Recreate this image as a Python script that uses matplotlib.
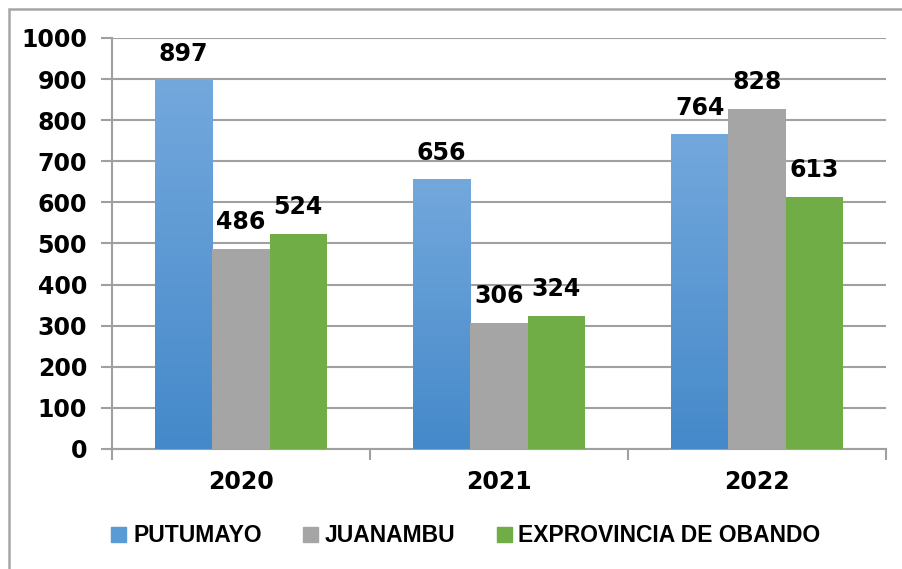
import matplotlib
matplotlib.use("Agg")
import matplotlib.pyplot as plt
import numpy as np
from matplotlib.patches import Rectangle
from matplotlib.colors import LinearSegmentedColormap

years = ["2020", "2021", "2022"]
series_names = ["PUTUMAYO", "JUANAMBU", "EXPROVINCIA DE OBANDO"]
putumayo = [897, 656, 764]
juanambu = [486, 306, 828]
obando = [524, 324, 613]
yticks = [0, 100, 200, 300, 400, 500, 600, 700, 800, 900, 1000]

plt.rcParams['font.family'] = ['DejaVu Sans']
fig = plt.figure(figsize=(9.02, 5.69), dpi=100)
ax = fig.add_axes([112/902, 1-449/569, (886-112)/902, (449-38)/569])

# outer border (only top and left edges visible in the frame)
fig.patches.append(Rectangle((9/902, -0.05), 1.0, 1.05 - 9/569, transform=fig.transFigure,
                             fill=False, edgecolor='#a6a6a6', linewidth=1.8))

x = np.arange(len(years))
w = 0.222
colors = ['#5b9bd5', '#a5a5a5', '#70ad47']
data = [putumayo, juanambu, obando]
blue_cmap = LinearSegmentedColormap.from_list('b', ['#4589ca', '#73a8dc'])
grad = np.linspace(0, 1, 256).reshape(-1, 1)

for i, vals in enumerate(data):
    xs = x + (i - 1) * w
    bars = ax.bar(xs, vals, width=w, color=colors[i], zorder=3, label=series_names[i])
    if i == 0:
        for b in bars:
            b.set_facecolor('none')
            b.set_edgecolor('none')
            ax.imshow(grad, cmap=blue_cmap, origin='lower', aspect='auto',
                      extent=[b.get_x(), b.get_x() + b.get_width(), 0, b.get_height()],
                      zorder=3)
    for xi, v in zip(xs, vals):
        ax.text(xi, v + 36, str(v), ha='center', va='bottom', fontsize=17,
                fontweight='bold', zorder=5)

ax.set_xlim(-0.5, 2.5)
ax.set_ylim(0, 1000)
ax.set_yticks(yticks)
ax.set_yticklabels([str(t) for t in yticks], fontsize=17, fontweight='bold')
ax.set_xticks(x)
ax.set_xticklabels(years, fontsize=17, fontweight='bold')
ax.tick_params(axis='x', length=0, pad=15)
ax.set_xticks([-0.5, 0.5, 1.5, 2.5], minor=True)
ax.tick_params(axis='x', which='minor', length=8, color='#a0a0a0', width=1.5)
ax.tick_params(axis='y', length=8, color='#a0a0a0', width=1.5, pad=10)
ax.yaxis.grid(True, color='#a0a0a0', linewidth=1.5, zorder=0)
ax.set_axisbelow(True)
for s in ['top', 'right']:
    ax.spines[s].set_visible(False)
for s in ['left', 'bottom']:
    ax.spines[s].set_color('#a0a0a0')
    ax.spines[s].set_linewidth(1.5)

handles = [Rectangle((0, 0), 1, 1, color=c) for c in colors]
leg = fig.legend(handles, series_names, loc='center', bbox_to_anchor=(466/902, 1-536/569),
                 ncol=3, frameon=False,
                 prop={'family': 'Liberation Sans', 'size': 16.5, 'weight': 'bold'},
                 handlelength=0.65, handleheight=0.65, handletextpad=0.3, columnspacing=1.8)

fig.savefig('out.png', dpi=100)
